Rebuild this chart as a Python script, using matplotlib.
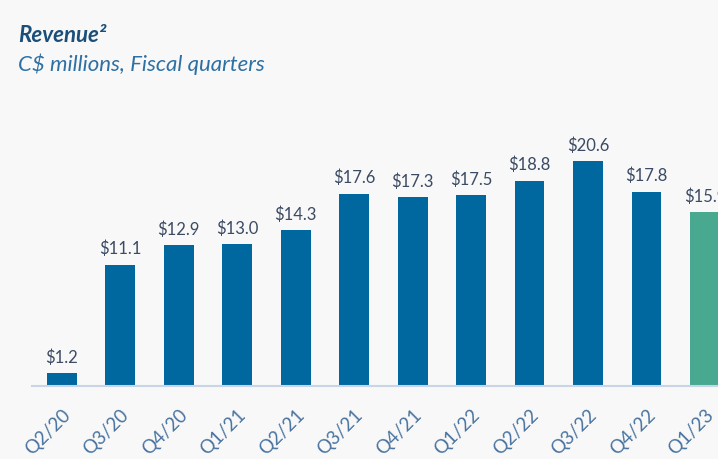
import matplotlib
matplotlib.use("Agg")
import matplotlib.pyplot as plt
import matplotlib.transforms as mtransforms

quarters = ["Q2/20", "Q3/20", "Q4/20", "Q1/21", "Q2/21", "Q3/21", "Q4/21",
            "Q1/22", "Q2/22", "Q3/22", "Q4/22", "Q1/23"]
revenue = [1.2, 11.1, 12.9, 13.0, 14.3, 17.6, 17.3, 17.5, 18.8, 20.6, 17.8, 15.9]
colors = ["#00679F"] * 11 + ["#48A990"]

BG = "#F8F8F8"
plt.rcParams['font.family'] = ['Lato', 'DejaVu Sans']

fig = plt.figure(figsize=(7.18, 4.6), dpi=100, facecolor=BG)
W, H = 718, 460
left_px, right_px = 32, 740
base_px, top_px = 387, 114
ax = fig.add_axes([left_px / W, (H - base_px) / H, (right_px - left_px) / W, (base_px - top_px) / H])
ax.set_facecolor(BG)
ax.patch.set_alpha(0)

x = list(range(len(quarters)))
bars = ax.bar(x, revenue, width=0.51, color=colors, zorder=2)
ax.set_xlim(-0.51, 11.6)
ax.set_ylim(0, 25)

for xi, v in zip(x, revenue):
    ax.annotate(f"${v:.1f}", (xi, v), xytext=(0, 6), textcoords="offset points",
                ha="center", va="bottom", fontsize=12, color="#3B4B63")

for s in ["top", "right", "left"]:
    ax.spines[s].set_visible(False)
ax.spines["bottom"].set_color("#C9D5E6")
ax.spines["bottom"].set_linewidth(1.5)
ax.set_yticks([])
ax.set_xticks(x)
ax.set_xticklabels(quarters, rotation=45, ha="right", rotation_mode="anchor",
                   fontsize=13.5, color="#4A74A0")
offset = mtransforms.ScaledTranslation(6 / 72, 0, fig.dpi_scale_trans)
for lbl in ax.get_xticklabels():
    lbl.set_transform(lbl.get_transform() + offset)
ax.tick_params(axis="x", length=0, pad=14)

fig.text(18 / W, 1 - 35 / H, "Revenue²", fontsize=16, fontweight="bold",
         fontstyle="italic", color="#1B4F7A", va="center", ha="left")
fig.text(18 / W, 1 - 64 / H, "C$ millions, Fiscal quarters", fontsize=16,
         fontstyle="italic", color="#2F70A3", va="center", ha="left")

fig.savefig("out.png", dpi=100, facecolor=BG)
